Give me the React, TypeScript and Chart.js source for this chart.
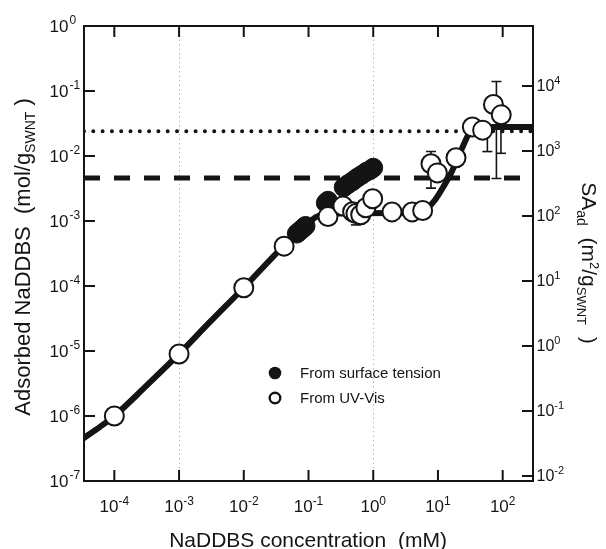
import React, { useEffect, useRef } from 'react';
import { Chart, registerables } from 'chart.js';

Chart.register(...registerables);

const FONT = '"Liberation Sans", Arial, Helvetica, sans-serif';
const INK = '#141414';

// axis ranges
const X_MIN = 3.4e-5;
const X_MAX = 294;
const Y_MIN = 1e-7;
const Y_MAX = 1;
const SA_FACTOR = 8.37e4; // right axis = left axis * factor

// tick exponents
const xTickExps = [-4, -3, -2, -1, 0, 1, 2];
const yTickExps = [-7, -6, -5, -4, -3, -2, -1, 0];
const y2TickExps = [-2, -1, 0, 1, 2, 3, 4];
const gridExps = [-3, 0];

// From UV-Vis (open circles)
const uvX = [1e-4, 1e-3, 1e-2, 0.042, 0.2, 0.34, 0.48, 0.54, 0.64, 0.77, 0.98, 1.95, 4.0, 5.8, 7.8, 9.8, 19, 34, 49, 72, 95];
const uvY = [1e-6, 9e-6, 9.4e-5, 4.1e-4, 1.17e-3, 1.7e-3, 1.39e-3, 1.3e-3, 1.25e-3, 1.6e-3, 2.2e-3, 1.38e-3, 1.38e-3, 1.45e-3, 7.6e-3, 5.5e-3, 9.4e-3, 2.8e-2, 2.5e-2, 6.2e-2, 4.3e-2];

// From surface tension (filled circles)
const stX = [0.066, 0.072, 0.078, 0.084, 0.09, 0.185, 0.2, 0.35, 0.41, 0.48, 0.56, 0.66, 0.78, 0.9, 1.0];
const stY = [6.4e-4, 6.9e-4, 7.4e-4, 7.9e-4, 8.4e-4, 1.9e-3, 2.05e-3, 3.3e-3, 3.7e-3, 4.1e-3, 4.6e-3, 5.1e-3, 5.7e-3, 6.1e-3, 6.6e-3];

// fitted curve
const fitX = [3.4e-5, 6e-5, 1e-4, 3e-4, 1e-3, 3e-3, 1e-2, 0.04, 0.09, 0.13, 0.2, 0.5, 2, 5, 7, 9, 12, 16, 20, 25, 30, 36, 45, 294];
const fitY = [4.6e-7, 6.8e-7, 1e-6, 2.8e-6, 9e-6, 2.8e-5, 9.4e-5, 4e-4, 8.5e-4, 1.15e-3, 1.3e-3, 1.32e-3, 1.33e-3, 1.38e-3, 1.6e-3, 2.1e-3, 3.3e-3, 5.5e-3, 9e-3, 1.5e-2, 2.2e-2, 2.7e-2, 2.8e-2, 2.8e-2];

// reference levels
const dottedLevel = 0.024;
const dashedLevel = 0.0046;

// error bars
const errX = [0.54, 7.8, 58, 80, 94];
const errLo = [8.7e-4, 3.2e-3, 1.17e-2, 4.5e-3, 1.1e-2];
const errHi = [null, 1.17e-2, null, 0.14, null];

const legendLabels = ['From surface tension', 'From UV-Vis'];

type Part = { t: string; size: number; dy: number };

function drawRich(ctx: CanvasRenderingContext2D, parts: Part[], x: number, y: number, align: 'left' | 'center' | 'right', rot = 0) {
  ctx.save();
  ctx.translate(x, y);
  ctx.rotate(rot);
  let w = 0;
  for (const p of parts) {
    ctx.font = `${p.size}px ${FONT}`;
    w += ctx.measureText(p.t).width;
  }
  let cx = align === 'left' ? 0 : align === 'center' ? -w / 2 : -w;
  ctx.textAlign = 'left';
  ctx.textBaseline = 'alphabetic';
  ctx.fillStyle = INK;
  for (const p of parts) {
    ctx.font = `${p.size}px ${FONT}`;
    ctx.fillText(p.t, cx, p.dy);
    cx += ctx.measureText(p.t).width;
  }
  ctx.restore();
}

const decorPlugin = {
  id: 'decor',
  beforeDatasetsDraw(chart: any) {
    const ctx: CanvasRenderingContext2D = chart.ctx;
    const { top, bottom } = chart.chartArea;
    const xs = chart.scales.x;
    const ys = chart.scales.y;
    ctx.save();
    // faint dotted grid lines
    ctx.strokeStyle = '#b8b8b8';
    ctx.lineWidth = 1;
    ctx.setLineDash([1.5, 3]);
    for (const e of gridExps) {
      const px = Math.round(xs.getPixelForValue(10 ** e)) + 0.5;
      ctx.beginPath();
      ctx.moveTo(px, top);
      ctx.lineTo(px, bottom);
      ctx.stroke();
    }
    ctx.setLineDash([]);
    // error bars
    ctx.strokeStyle = INK;
    ctx.lineWidth = 1.6;
    for (let i = 0; i < errX.length; i++) {
      const px = xs.getPixelForValue(errX[i]);
      const lo = ys.getPixelForValue(errLo[i]);
      const hi = errHi[i] != null ? ys.getPixelForValue(errHi[i] as number) : null;
      let nearestY = uvY[0];
      let best = Infinity;
      for (let j = 0; j < uvX.length; j++) {
        const d = Math.abs(Math.log10(uvX[j]) - Math.log10(errX[i]));
        if (d < best) { best = d; nearestY = uvY[j]; }
      }
      const mid = ys.getPixelForValue(nearestY);
      const topPx = hi != null ? hi : mid;
      ctx.beginPath();
      ctx.moveTo(px, lo);
      ctx.lineTo(px, topPx);
      ctx.stroke();
      ctx.beginPath();
      ctx.moveTo(px - 5, lo);
      ctx.lineTo(px + 5, lo);
      if (hi != null) {
        ctx.moveTo(px - 5, hi);
        ctx.lineTo(px + 5, hi);
      }
      ctx.stroke();
    }
    ctx.restore();
  },
  afterDatasetsDraw(chart: any) {
    const ctx: CanvasRenderingContext2D = chart.ctx;
    const { left, right, top, bottom } = chart.chartArea;
    const xs = chart.scales.x;
    const ys = chart.scales.y;
    const y2 = chart.scales.y2;
    ctx.save();
    // frame
    ctx.strokeStyle = INK;
    ctx.lineWidth = 2;
    ctx.setLineDash([]);
    ctx.strokeRect(left, top, right - left, bottom - top);
    // ticks (inward)
    const TL = 11;
    ctx.lineWidth = 2;
    ctx.beginPath();
    for (const e of xTickExps) {
      const px = xs.getPixelForValue(10 ** e);
      ctx.moveTo(px, bottom);
      ctx.lineTo(px, bottom - TL);
      ctx.moveTo(px, top);
      ctx.lineTo(px, top + TL);
    }
    for (const e of yTickExps) {
      const py = ys.getPixelForValue(10 ** e);
      ctx.moveTo(left, py);
      ctx.lineTo(left + TL, py);
    }
    for (const e of y2TickExps) {
      const py = y2.getPixelForValue(10 ** e);
      ctx.moveTo(right, py);
      ctx.lineTo(right - TL, py);
    }
    ctx.stroke();

    // tick labels
    for (const e of xTickExps) {
      const px = xs.getPixelForValue(10 ** e);
      drawRich(ctx, [
        { t: '10', size: 17, dy: 0 },
        { t: String(e), size: 12, dy: -7 },
      ], px, bottom + 31, 'center');
    }
    for (const e of yTickExps) {
      const py = ys.getPixelForValue(10 ** e);
      drawRich(ctx, [{ t: '10', size: 17, dy: 0 }], left - 15.5, py + 6, 'right');
      drawRich(ctx, [{ t: String(e), size: 12, dy: 0 }], left - 14.5, py - 2, 'left');
    }
    for (const e of y2TickExps) {
      const py = y2.getPixelForValue(10 ** e);
      drawRich(ctx, [
        { t: '10', size: 16, dy: 0 },
        { t: String(e), size: 11, dy: -7 },
      ], right + 3.5, py + 5, 'left');
    }

    // axis titles
    drawRich(ctx, [
      { t: 'NaDDBS concentration  (mM)', size: 21, dy: 0 },
    ], 308, 547, 'center');
    drawRich(ctx, [
      { t: 'Adsorbed NaDDBS  (mol/g', size: 22, dy: 0 },
      { t: 'SWNT', size: 14, dy: 5 },
      { t: ' )', size: 22, dy: 0 },
    ], 30, 257, 'center', -Math.PI / 2);
    drawRich(ctx, [
      { t: 'SA', size: 21, dy: 0 },
      { t: 'ad', size: 14, dy: 5 },
      { t: '  (m', size: 21, dy: 0 },
      { t: '2', size: 13, dy: -8 },
      { t: '/g', size: 21, dy: 0 },
      { t: 'SWNT', size: 13, dy: 5 },
      { t: '  )', size: 21, dy: 0 },
    ], 582, 263, 'center', Math.PI / 2);

    // legend
    const lx = 275;
    const ly = [373, 398];
    ctx.fillStyle = INK;
    ctx.beginPath();
    ctx.arc(lx, ly[0], 6.3, 0, Math.PI * 2);
    ctx.fill();
    ctx.beginPath();
    ctx.arc(lx, ly[1], 5.3, 0, Math.PI * 2);
    ctx.fillStyle = '#fff';
    ctx.fill();
    ctx.lineWidth = 2.4;
    ctx.strokeStyle = INK;
    ctx.stroke();
    ctx.fillStyle = INK;
    ctx.font = `15px ${FONT}`;
    ctx.textAlign = 'left';
    ctx.textBaseline = 'middle';
    ctx.fillText(legendLabels[0], 300, ly[0] + 1);
    ctx.fillText(legendLabels[1], 300, ly[1] + 1);
    ctx.restore();
  },
};

export default function App() {
  const ref = useRef<HTMLCanvasElement | null>(null);
  useEffect(() => {
    if (!ref.current) return;
    const pts = (xs: number[], ys: number[]) => xs.map((x, i) => ({ x, y: ys[i] }));
    const chart = new Chart(ref.current, {
      type: 'scatter',
      data: {
        datasets: [
          {
            label: 'From UV-Vis',
            data: pts(uvX, uvY),
            showLine: false,
            pointRadius: 9.5,
            pointBackgroundColor: '#ffffff',
            pointBorderColor: INK,
            pointBorderWidth: 2,
            order: 0,
          },
          {
            label: 'From surface tension',
            data: pts(stX, stY),
            showLine: false,
            pointRadius: 9.5,
            pointBackgroundColor: INK,
            pointBorderColor: INK,
            pointBorderWidth: 1,
            order: 1,
          },
          {
            label: 'fit',
            data: pts(fitX, fitY),
            showLine: true,
            borderColor: INK,
            borderWidth: 6,
            pointRadius: 0,
            cubicInterpolationMode: 'monotone',
            borderCapStyle: 'round',
            borderJoinStyle: 'round',
            order: 2,
          },
          {
            label: 'dashed',
            data: [{ x: X_MIN, y: dashedLevel }, { x: X_MAX, y: dashedLevel }],
            showLine: true,
            borderColor: INK,
            borderWidth: 5,
            borderDash: [16, 14],
            pointRadius: 0,
            order: 3,
          },
          {
            label: 'dotted',
            data: [{ x: X_MIN, y: dottedLevel }, { x: X_MAX, y: dottedLevel }],
            showLine: true,
            borderColor: INK,
            borderWidth: 4,
            borderDash: [0, 9.3],
            borderCapStyle: 'round',
            pointRadius: 0,
            order: 4,
          },
        ],
      },
      options: {
        responsive: false,
        animation: false,
        events: [],
        layout: { padding: { left: 84, top: 26, right: 73, bottom: 68 } },
        plugins: { legend: { display: false }, tooltip: { enabled: false } },
        scales: {
          x: { type: 'logarithmic', min: X_MIN, max: X_MAX, display: false },
          y: { type: 'logarithmic', min: Y_MIN, max: Y_MAX, display: false },
          y2: { type: 'logarithmic', position: 'right', min: Y_MIN * SA_FACTOR, max: Y_MAX * SA_FACTOR, display: false },
        },
      } as any,
      plugins: [decorPlugin],
    });
    return () => chart.destroy();
  }, []);
  return (
    <div style={{ position: 'fixed', left: 0, top: 0, width: 606, height: 549, background: '#fff' }}>
      <canvas ref={ref} width={606} height={549} style={{ display: 'block' }} />
    </div>
  );
}
